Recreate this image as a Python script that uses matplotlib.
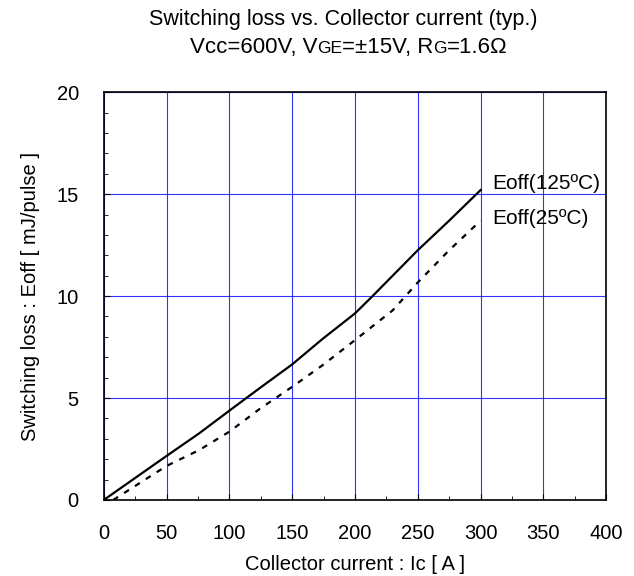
import numpy as np
import matplotlib
matplotlib.use("Agg")
import matplotlib.pyplot as plt
from matplotlib.ticker import MultipleLocator

plt.rcParams['font.family'] = ['Liberation Sans', 'DejaVu Sans']

# データ (読み取り値)
ic_125 = [0, 50, 76, 100, 124, 150, 174, 200, 214, 230, 250, 275, 300]
eoff_125 = [0, 2.16, 3.27, 4.38, 5.48, 6.65, 7.89, 9.15, 10.0, 11.0, 12.25, 13.7, 15.2]
ic_25 = [7.5, 50, 76, 100, 124, 150, 174, 200, 230, 250, 275, 300]
eoff_25 = [0, 1.67, 2.45, 3.35, 4.46, 5.55, 6.6, 7.84, 9.3, 10.67, 12.25, 13.7]
curve_labels = ["Eoff(125ºC)", "Eoff(25ºC)"]
label_pos = [(309, 15.5), (309, 13.8)]

fig = plt.figure(figsize=(6.34, 5.76), dpi=100)
ax = fig.add_axes([0.1637, 0.132, 0.7925, 0.708])

ax.plot(ic_125, eoff_125, color='black', lw=1.6)
ax.plot(ic_25, eoff_25, color='black', lw=1.6, linestyle=(0, (2.6, 3.2)))

for txt, (x, y) in zip(curve_labels, label_pos):
    ax.text(x, y, txt, fontsize=15, va='center', ha='left')

ax.set_xlim(0, 400)
ax.set_ylim(0, 20)
ax.xaxis.set_major_locator(MultipleLocator(50))
ax.xaxis.set_minor_locator(MultipleLocator(25))
ax.yaxis.set_major_locator(MultipleLocator(5))
ax.yaxis.set_minor_locator(MultipleLocator(1))
ax.tick_params(which='both', direction='in', labelsize=14.5)
ax.tick_params(which='major', length=4)
ax.tick_params(axis='x', which='major', pad=17)
ax.tick_params(axis='y', which='major', pad=18)
ax.tick_params(which='minor', length=3)
ax.grid(True, which='major', color='#0000ff', lw=0.8, alpha=0.8)
for s in ax.spines.values():
    s.set_linewidth(1.2)

ax.set_xlabel("Collector current : Ic [ A ]", fontsize=14.5, labelpad=9)
ax.set_ylabel("Switching loss : Eoff [ mJ/pulse ]", fontsize=14.5, labelpad=12)

# タイトル
fig.text(0.541, 1 - 20 / 576, "Switching loss vs. Collector current (typ.)",
         fontsize=15.5, ha='center', va='center')

pieces = [("Vcc=600V, V", 16), ("GE", 12.5), ("=±15V, R", 16), ("G", 12.5), ("=1.6Ω", 16)]
fig.canvas.draw()
rend = fig.canvas.get_renderer()
objs = []
widths = []
for s, fs in pieces:
    t = fig.text(0, 1 - 53 / 576, s, fontsize=fs, ha='left', va='baseline')
    bb = t.get_window_extent(rend)
    objs.append(t)
    widths.append(bb.width)
total = sum(widths)
x0 = 0.55 * fig.bbox.width - total / 2
for t, w in zip(objs, widths):
    t.set_x(x0 / fig.bbox.width)
    x0 += w

fig.savefig("out.png", dpi=100)
